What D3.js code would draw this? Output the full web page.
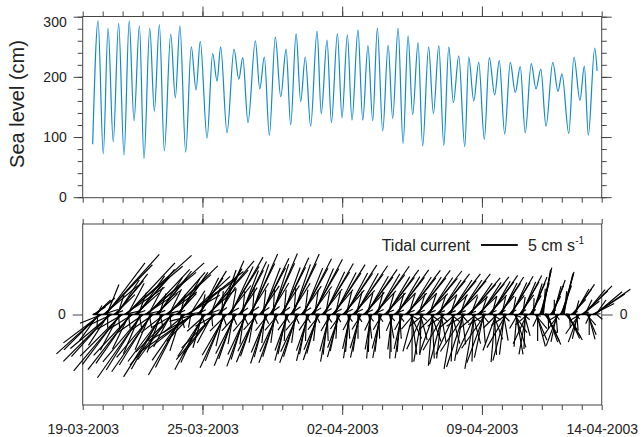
<!DOCTYPE html>
<html><head><meta charset="utf-8">
<script src="https://cdn.jsdelivr.net/npm/d3@7/dist/d3.min.js"></script>
<style>body{margin:0;background:#fff}svg text{font-family:Arial,"Liberation Sans",Helvetica,sans-serif;fill:#222}</style>
</head><body><svg id="c" width="643" height="437"></svg>
<script>
// ---------- DATA ----------
// time axis: days since 19-03-2003 00:00
const dateLabels = ["19-03-2003","25-03-2003","02-04-2003","09-04-2003","14-04-2003"];
const labelDays = [0, 6, 13, 20, 26];
const majorDays = [6, 13, 20];
const dayTicks = d3.range(0, 27);

// sea level extremes (day, cm)
const seaDays = [0.50,0.77,1.03,1.27,1.53,1.80,2.07,2.33,2.57,2.84,3.07,3.36,3.59,3.84,4.09,4.41,4.64,4.87,5.16,5.44,5.68,5.89,6.23,6.51,6.73,6.91,7.23,7.58,7.82,8.02,8.28,8.65,8.87,9.10,9.35,9.65,9.92,10.19,10.42,10.69,10.92,11.15,11.42,11.74,11.95,12.24,12.46,12.76,12.99,13.26,13.49,13.79,14.03,14.29,14.53,14.76,15.03,15.30,15.53,15.80,16.05,16.30,16.53,16.80,17.03,17.33,17.57,17.84,18.09,18.34,18.57,18.84,19.14,19.34,19.59,19.84,20.12,20.37,20.64,20.87,21.14,21.42,21.67,21.92,22.17,22.47,22.71,22.95,23.21,23.55,23.81,24.01,24.35,24.61,24.91,25.13,25.33,25.65,25.77];
const seaLevel = [88,293,72,281,92,289,70,293,127,285,64,281,143,287,77,271,165,285,75,250,178,259,98,239,193,250,107,246,196,232,124,260,180,233,103,266,167,246,120,272,159,233,118,276,139,261,124,272,132,270,128,278,128,252,127,281,110,253,131,281,89,268,137,257,85,250,139,252,86,250,157,235,84,233,160,224,96,232,170,227,105,224,174,217,107,222,180,213,118,224,176,205,106,233,161,218,103,248,210];
const seaTicksMajor = [0, 100, 200, 300];
const seaTicksMinor = d3.range(0, 301, 20);

// tidal current sticks: hourly, starting at day 0.5; direction (deg, counter-clockwise from east), speed (cm/s)
const stickStartDay = 0.5;
const stickStepHours = 1;
const stickDir = [
10,32,38,40,45,60,-93,-126,-135,-138,-143,-158,
18,40,46,48,53,68,-90,-123,-132,-135,-140,-155,170,
22,44,50,52,57,72,-85,-118,-127,-130,-135,-150,
12,34,40,42,47,62,-83,-116,-125,-128,-133,-148,170,
20,42,48,50,55,70,-80,-113,-122,-125,-130,-145,
12,34,40,42,47,62,-80,-113,-122,-125,-130,-145,170,
22,44,50,52,57,72,-77,-110,-119,-122,-127,-142,
14,36,42,44,49,64,-85,-118,-127,-130,-135,-150,170,
25,47,53,55,60,75,-75,-108,-117,-120,-125,-140,
8,30,36,38,43,58,-100,-133,-142,-145,-150,-165,170,
28,50,56,58,63,78,-73,-106,-115,-118,-123,-138,
20,42,48,50,55,70,-85,-118,-127,-130,-135,-150,170,
36,58,64,66,71,86,-70,-103,-112,-115,-120,-135,
30,52,58,60,65,80,-67,-100,-109,-112,-117,-132,170,
34,56,62,64,69,84,-65,-98,-107,-110,-115,-130,
36,58,64,66,71,86,-67,-100,-109,-112,-117,-132,170,
34,56,62,64,69,84,-63,-96,-105,-108,-113,-128,
37,59,65,67,72,87,-65,-98,-107,-110,-115,-130,170,
35,57,63,65,70,85,-60,-93,-102,-105,-110,-125,
36,58,64,66,71,86,-65,-98,-107,-110,-115,-130,170,
33,55,61,63,68,83,-59,-92,-101,-104,-109,-124,
32,54,60,62,67,82,-63,-96,-105,-108,-113,-128,170,
30,52,58,60,65,80,-55,-88,-97,-100,-105,-120,
28,50,56,58,63,78,-60,-93,-102,-105,-110,-125,170,
27,49,55,57,62,77,-53,-86,-95,-98,-103,-118,
26,48,54,56,61,76,-57,-90,-99,-102,-107,-122,170,
25,47,53,55,60,75,-50,-83,-92,-95,-100,-115,
25,47,53,55,60,75,-55,-88,-97,-100,-105,-120,170,
24,46,52,54,59,74,-47,-80,-89,-92,-97,-112,
24,46,52,54,59,74,-53,-86,-95,-98,-103,-118,170,
23,45,51,53,58,73,-30,-65,-82,-90,-105,-130,
23,45,51,53,58,73,-40,-75,-92,-100,-115,-140,170,
22,44,50,52,57,72,-35,-70,-87,-95,-110,-135,
22,44,50,52,57,72,-45,-80,-97,-105,-120,-145,170,
22,44,50,52,57,72,-40,-75,-92,-100,-115,-140,
22,44,50,52,57,72,-48,-83,-100,-108,-123,-148,170,
20,42,48,50,55,70,-40,-75,-92,-100,-115,-140,
22,44,50,52,57,72,-50,-85,-102,-110,-125,-150,170,
25,47,53,55,60,75,-35,-70,-87,-95,-110,-135,
28,50,56,58,63,78,-45,-80,-97,-105,-120,-145,170,
30,52,58,60,65,80,-20,-55,-72,-80,-95,-120,
32,54,60,62,67,82,-40,-75,-92,-100,-115,-140,170,
38,60,66,68,73,88,-15,-50,-67,-75,-90,-115,
60,74,77,78,80,86,-40,-58,-63,-65,-70,-90,170,
40,62,68,70,75,90,-50,-85,-102,-110,-125,-150,
58,70,74,75,77,84,-35,-53,-58,-60,-65,-85,170,
25,47,53,55,60,75,-50,-85,-102,-110,-125,-150,
15,37,43,45,50,65,-15,-50,-67,-75,-90,-115,170,
5,27,33,35,40,55,-40];
const stickSpeed = [
0.7,1.9,3.0,3.5,2.8,1.4,1.6,4.4,6.8,8.0,6.4,3.2,
2.2,6.1,9.4,11.0,8.8,4.4,1.8,5.0,7.7,9.0,7.2,3.6,0.6,
1.4,3.9,6.0,7.0,5.6,2.8,2.0,5.5,8.5,10.0,8.0,4.0,
2.4,6.6,10.2,12.0,9.6,4.8,1.9,5.2,8.1,9.5,7.6,3.8,0.6,
1.6,4.4,6.8,8.0,6.4,3.2,2.1,5.8,8.9,10.5,8.4,4.2,
2.1,5.8,8.9,10.5,8.4,4.2,1.9,5.2,8.1,9.5,7.6,3.8,0.6,
1.5,4.1,6.4,7.5,6.0,3.0,2.0,5.5,8.5,10.0,8.0,4.0,
1.9,5.2,8.1,9.5,7.6,3.8,1.8,5.0,7.7,9.0,7.2,3.6,0.6,
1.4,3.9,6.0,7.0,5.6,2.8,1.9,5.2,8.1,9.5,7.6,3.8,
1.9,5.2,8.1,9.5,7.6,3.8,1.8,5.0,7.7,9.0,7.2,3.6,0.6,
1.4,3.9,6.0,7.0,5.6,2.8,1.7,4.7,7.2,8.5,6.8,3.4,
1.9,5.2,8.1,9.5,7.6,3.8,1.6,4.4,6.8,8.0,6.4,3.2,0.6,
1.6,4.4,6.8,8.0,6.4,3.2,1.6,4.4,6.8,8.0,6.4,3.2,
1.8,5.0,7.7,9.0,7.2,3.6,1.5,4.1,6.4,7.5,6.0,3.0,0.6,
1.6,4.4,6.8,8.0,6.4,3.2,1.5,4.1,6.4,7.5,6.0,3.0,
1.8,5.0,7.7,9.0,7.2,3.6,1.4,3.9,6.0,7.0,5.6,2.8,0.6,
1.7,4.7,7.2,8.5,6.8,3.4,1.4,3.9,6.0,7.0,5.6,2.8,
1.8,5.0,7.7,9.0,7.2,3.6,1.4,3.9,6.0,7.0,5.6,2.8,0.6,
1.7,4.7,7.2,8.5,6.8,3.4,1.3,3.6,5.5,6.5,5.2,2.6,
1.8,5.0,7.7,9.0,7.2,3.6,1.4,3.9,6.0,7.0,5.6,2.8,0.6,
1.7,4.7,7.2,8.5,6.8,3.4,1.3,3.6,5.5,6.5,5.2,2.6,
1.7,4.7,7.2,8.5,6.8,3.4,1.3,3.6,5.5,6.5,5.2,2.6,0.6,
1.6,4.4,6.8,8.0,6.4,3.2,1.3,3.6,5.5,6.5,5.2,2.6,
1.6,4.4,6.8,8.0,6.4,3.2,1.2,3.3,5.1,6.0,4.8,2.4,0.6,
1.6,4.4,6.8,8.0,6.4,3.2,1.2,3.3,5.1,6.0,4.8,2.4,
1.6,4.4,6.8,8.0,6.4,3.2,1.2,3.3,5.1,6.0,4.8,2.4,0.6,
1.5,4.1,6.4,7.5,6.0,3.0,1.2,3.3,5.1,6.0,4.8,2.4,
1.6,4.4,6.8,8.0,6.4,3.2,1.2,3.3,5.1,6.0,4.8,2.4,0.6,
1.5,4.1,6.4,7.5,6.0,3.0,1.2,3.3,5.1,6.0,4.8,2.4,
1.5,4.1,6.4,7.5,6.0,3.0,1.2,3.3,5.1,6.0,4.8,2.4,0.6,
1.5,4.1,6.4,7.5,6.0,3.0,1.3,3.6,5.5,6.5,5.2,2.6,
1.5,4.1,6.4,7.5,6.0,3.0,1.3,3.6,5.5,6.5,5.2,2.6,0.6,
1.5,4.1,6.4,7.5,6.0,3.0,1.4,3.9,6.0,7.0,5.6,2.8,
1.4,3.9,6.0,7.0,5.6,2.8,1.4,3.9,6.0,7.0,5.6,2.8,0.6,
1.4,3.9,6.0,7.0,5.6,2.8,1.5,4.1,6.4,7.5,6.0,3.0,
1.4,3.9,6.0,7.0,5.6,2.8,1.5,4.1,6.4,7.5,6.0,3.0,0.6,
1.3,3.6,5.5,6.5,5.2,2.6,1.5,4.1,6.4,7.5,6.0,3.0,
1.3,3.6,5.5,6.5,5.2,2.6,1.4,3.9,6.0,7.0,5.6,2.8,0.6,
1.3,3.6,5.5,6.5,5.2,2.6,1.3,3.6,5.5,6.5,5.2,2.6,
1.2,3.3,5.1,6.0,4.8,2.4,1.3,3.6,5.5,6.5,5.2,2.6,0.6,
1.2,3.3,5.1,6.0,4.8,2.4,1.1,3.0,4.7,5.5,4.4,2.2,
1.2,3.3,5.1,6.0,4.8,2.4,1.1,3.0,4.7,5.5,4.4,2.2,0.6,
1.1,3.0,4.7,5.5,4.4,2.2,0.9,2.5,3.8,4.5,3.6,1.8,
1.3,4.5,6.0,6.5,6.2,3.5,0.9,3.0,4.0,4.5,4.0,2.0,0.6,
1.0,2.8,4.3,5.0,4.0,2.0,0.9,2.5,3.8,4.5,3.6,1.8,
1.2,4.2,5.6,6.0,5.7,3.2,0.8,2.6,3.6,4.0,3.6,1.8,0.6,
1.0,2.8,4.3,5.0,4.0,2.0,0.8,2.2,3.4,4.0,3.2,1.6,
1.1,3.0,4.7,5.5,4.4,2.2,0.7,1.9,3.0,3.5,2.8,1.4,0.6,
1.2,3.3,5.1,6.0,4.8,2.4,1.0];
const legendSpeed = 5;

// ---------- LAYOUT ----------
const svg = d3.select("#c");
const L = 82.7, R = 601.7;
const T1 = 16.5, B1 = 197.7, T2 = 224, B2 = 405;
const axisColor = "#444";

const x = d3.scaleLinear().domain([0, 26]).range([L, R]);
const ySea = d3.scaleLinear().domain([0, 300]).range([197.2, 16.7]);
const yCur = d3.scaleLinear().domain([-12.3, 12.3]).range([B2, T2]);
const k = yCur(0) - yCur(1); // px per cm/s

function styleAxis(g){
  g.select(".domain").remove();
  g.selectAll(".tick line").attr("stroke", axisColor).attr("stroke-width", 1);
  g.selectAll(".tick text").attr("font-size", 14).attr("fill", "#222")
    .style("font-family", "Arial, 'Liberation Sans', Helvetica, sans-serif");
}
function frame(top, bottom){
  svg.append("rect").attr("x", L).attr("y", top).attr("width", R - L).attr("height", bottom - top)
    .attr("fill", "none").attr("stroke", axisColor).attr("stroke-width", 1);
}
function timeTicks(yPos, dirTop){
  const mk = dirTop ? d3.axisTop : d3.axisBottom;
  svg.append("g").attr("transform", `translate(0,${yPos})`)
    .call(mk(x).tickValues(dayTicks).tickSize(5).tickFormat("")).call(styleAxis);
  svg.append("g").attr("transform", `translate(0,${yPos})`)
    .call(mk(x).tickValues(majorDays).tickSize(10).tickFormat("")).call(styleAxis);
}

// ---------- TOP PANEL ----------
timeTicks(T1, true);
timeTicks(B1, false);
svg.append("g").attr("transform", `translate(${L},0)`)
  .call(d3.axisLeft(ySea).tickValues(seaTicksMinor).tickSize(5).tickFormat("")).call(styleAxis);
const yl = svg.append("g").attr("transform", `translate(${L},0)`)
  .call(d3.axisLeft(ySea).tickValues(seaTicksMajor).tickSize(9).tickPadding(7)).call(styleAxis);
yl.selectAll(".tick text").filter(d => d === 300).attr("y", 5);
svg.append("g").attr("transform", `translate(${R},0)`)
  .call(d3.axisRight(ySea).tickValues(seaTicksMinor).tickSize(5).tickFormat("")).call(styleAxis);
svg.append("g").attr("transform", `translate(${R},0)`)
  .call(d3.axisRight(ySea).tickValues(seaTicksMajor).tickSize(10).tickFormat("")).call(styleAxis);
frame(T1, B1);

const seaPts = seaDays.map((d, i) => [d, seaLevel[i]]).filter(p => p[1] !== undefined);
svg.append("path").datum(seaPts)
  .attr("fill", "none").attr("stroke", "#1289cc").attr("stroke-width", 1.2)
  .attr("d", d3.line().x(p => x(p[0])).y(p => ySea(p[1])).curve(d3.curveMonotoneX));

svg.append("text").attr("transform", "translate(24,104) rotate(-90)")
  .attr("text-anchor", "middle").attr("font-size", 20).text("Sea level (cm)");

// ---------- BOTTOM PANEL ----------
timeTicks(T2, true);
timeTicks(B2, false);
svg.append("g").attr("transform", `translate(0,${B2})`)
  .call(d3.axisBottom(x).tickValues(labelDays).tickSize(0).tickPadding(19)
    .tickFormat((d, i) => dateLabels[i])).call(styleAxis);
svg.append("g").attr("transform", `translate(${L},0)`)
  .call(d3.axisLeft(yCur).tickValues([0]).tickSize(10).tickPadding(7)).call(styleAxis);
svg.append("g").attr("transform", `translate(${R},0)`)
  .call(d3.axisRight(yCur).tickValues([0]).tickSize(11).tickPadding(7)).call(styleAxis);
frame(T2, B2);

const n = Math.min(stickDir.length, stickSpeed.length);
const sticks = d3.range(n).map(i => {
  const a = stickDir[i] * Math.PI / 180;
  return { t: stickStartDay + i * stickStepHours / 24, u: stickSpeed[i] * Math.cos(a), v: stickSpeed[i] * Math.sin(a) };
});
svg.append("g").selectAll("line").data(sticks).join("line")
  .attr("x1", d => x(d.t)).attr("y1", yCur(0))
  .attr("x2", d => x(d.t) + d.u * k).attr("y2", d => yCur(d.v))
  .attr("stroke", "#000").attr("stroke-width", 1.15);
svg.append("line").attr("x1", x(sticks[0].t)).attr("x2", x(sticks[n - 1].t))
  .attr("y1", yCur(0)).attr("y2", yCur(0)).attr("stroke", "#000").attr("stroke-width", 1.5);

// legend
const lg = svg.append("g");
lg.append("text").attr("x", 470).attr("y", 250.5).attr("text-anchor", "end").attr("font-size", 16).text("Tidal current");
lg.append("line").attr("x1", 481).attr("x2", 481 + legendSpeed * k).attr("y1", 245).attr("y2", 245)
  .attr("stroke", "#111").attr("stroke-width", 2);
const lt = lg.append("text").attr("x", 528).attr("y", 250.5).attr("font-size", 16);
lt.append("tspan").text(legendSpeed + " cm s");
lt.append("tspan").attr("font-size", 10).attr("dy", -7).text("-1");
</script></body></html>
